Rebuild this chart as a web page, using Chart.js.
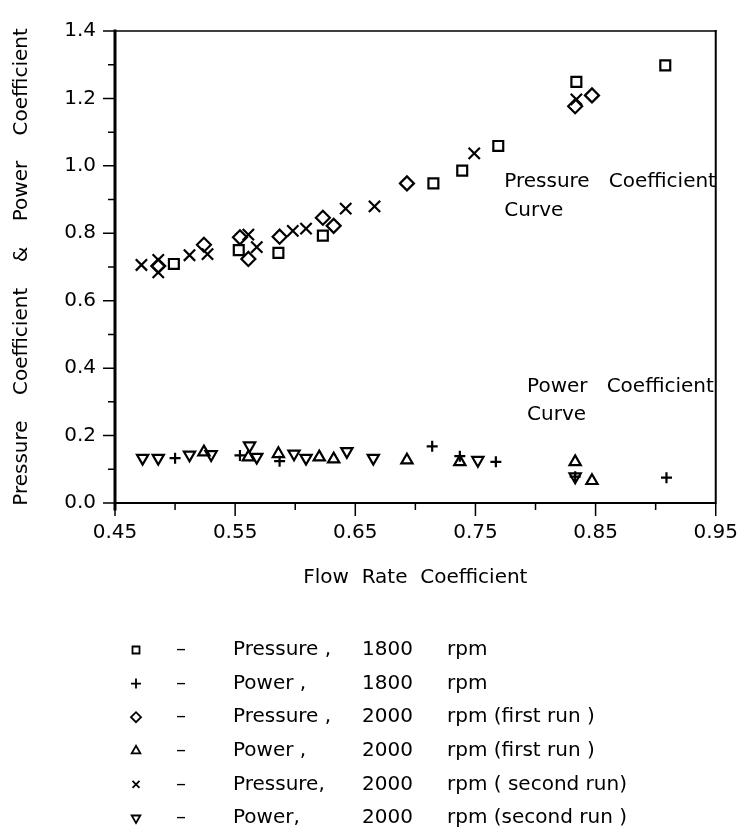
<!DOCTYPE html>
<html>
<head>
<meta charset="utf-8">
<script src="https://cdn.jsdelivr.net/npm/chart.js@4.4.1/dist/chart.umd.min.js"></script>
<style>
html, body { margin: 0; padding: 0; background: #fff; }
#wrap { width: 756px; height: 835px; }
</style>
</head>
<body>
<div id="wrap"><canvas id="c" width="756" height="835"></canvas></div>
<script>
// tick labels
var xTicks = [0.45, 0.55, 0.65, 0.75, 0.85, 0.95];
var xMinor = [0.50, 0.60, 0.70, 0.80, 0.90];
var yTicks = [0.0, 0.2, 0.4, 0.6, 0.8, 1.0, 1.2, 1.4];
var yMinor = [0.1, 0.3, 0.5, 0.7, 0.9, 1.1, 1.3];

// pressure 1800 rpm (squares)
var press1800X = [0.499, 0.553, 0.586, 0.623, 0.715, 0.739, 0.769, 0.834, 0.908];
var press1800Y = [0.709, 0.750, 0.742, 0.793, 0.948, 0.986, 1.059, 1.249, 1.298];
// power 1800 rpm (plus)
var power1800X = [0.500, 0.554, 0.587, 0.714, 0.737, 0.767, 0.833, 0.909];
var power1800Y = [0.133, 0.141, 0.124, 0.168, 0.139, 0.122, 0.078, 0.075];
// pressure 2000 rpm first run (diamonds)
var press2000aX = [0.486, 0.524, 0.554, 0.561, 0.587, 0.623, 0.632, 0.693, 0.833, 0.847];
var press2000aY = [0.703, 0.766, 0.788, 0.724, 0.790, 0.846, 0.822, 0.948, 1.177, 1.209];
// power 2000 rpm first run (triangles up)
var power2000aX = [0.524, 0.561, 0.586, 0.620, 0.632, 0.693, 0.737, 0.833, 0.847];
var power2000aY = [0.151, 0.136, 0.146, 0.136, 0.130, 0.127, 0.122, 0.122, 0.066];
// pressure 2000 rpm second run (x)
var press2000bX = [0.472, 0.486, 0.486, 0.512, 0.527, 0.561, 0.568, 0.598, 0.609, 0.642, 0.666, 0.749, 0.834];
var press2000bY = [0.706, 0.721, 0.684, 0.735, 0.738, 0.796, 0.759, 0.807, 0.814, 0.873, 0.880, 1.037, 1.197];
// power 2000 rpm second run (triangles down)
var power2000bX = [0.473, 0.486, 0.512, 0.530, 0.562, 0.568, 0.599, 0.609, 0.643, 0.665, 0.752, 0.833];
var power2000bY = [0.133, 0.133, 0.143, 0.144, 0.170, 0.136, 0.146, 0.133, 0.153, 0.133, 0.127, 0.078];

var legendNames = ['Pressure ,', 'Power ,', 'Pressure ,', 'Power ,', 'Pressure,', 'Power,'];
var legendSpeeds = ['1800', '1800', '2000', '2000', '2000', '2000'];
var legendNotes = ['rpm', 'rpm', 'rpm (first run )', 'rpm (first run )', 'rpm ( second run)', 'rpm (second run )'];

var FONT = 'DejaVu Sans';
var SIZE = 20;

function pts(xs, ys) {
    return xs.map(function(x, i) { return {x: x, y: ys[i]}; });
}

function series(xs, ys, style, radius, rotation) {
    return {
        data: pts(xs, ys),
        pointStyle: style,
        pointRadius: radius,
        pointRotation: rotation || 0,
        pointBorderWidth: 2.2,
        pointBorderColor: '#000',
        pointBackgroundColor: 'rgba(0,0,0,0)',
        showLine: false
    };
}

var sets = [
    series(press1800X, press1800Y, 'rect', 7),
    series(power1800X, power1800Y, 'cross', 5.5),
    series(press2000aX, press2000aY, 'rectRot', 7),
    series(power2000aX, power2000aY, 'triangle', 6.5),
    series(press2000bX, press2000bY, 'crossRot', 8),
    series(power2000bX, power2000bY, 'triangle', 6.5, 180)
];

// frame and tick marks round the plot
var frame = {
    id: 'frame',
    afterDraw: function(chart) {
        var ctx = chart.ctx, a = chart.chartArea;
        var xs = chart.scales.x, ys = chart.scales.y;
        ctx.save();
        ctx.strokeStyle = '#000';
        ctx.lineCap = 'square';
        ctx.lineWidth = 1.5;
        ctx.beginPath();
        ctx.moveTo(a.left, a.top); ctx.lineTo(a.right, a.top);
        ctx.stroke();
        ctx.lineWidth = 2;
        ctx.beginPath();
        ctx.moveTo(a.right, a.top); ctx.lineTo(a.right, a.bottom);
        ctx.moveTo(a.left, a.bottom); ctx.lineTo(a.right, a.bottom);
        ctx.stroke();
        ctx.lineWidth = 3;
        ctx.beginPath();
        ctx.moveTo(a.left, a.top); ctx.lineTo(a.left, a.bottom + 6);
        ctx.stroke();
        ctx.lineWidth = 1.5;
        ctx.lineCap = 'butt';
        ctx.beginPath();
        xTicks.forEach(function(v) {
            var p = xs.getPixelForValue(v);
            ctx.moveTo(p, a.bottom); ctx.lineTo(p, a.bottom + 13);
        });
        xMinor.forEach(function(v) {
            var p = xs.getPixelForValue(v);
            ctx.moveTo(p, a.bottom); ctx.lineTo(p, a.bottom + 7);
        });
        yTicks.forEach(function(v) {
            var p = ys.getPixelForValue(v);
            ctx.moveTo(a.left, p); ctx.lineTo(a.left - 12, p);
        });
        yMinor.forEach(function(v) {
            var p = ys.getPixelForValue(v);
            ctx.moveTo(a.left, p); ctx.lineTo(a.left - 7, p);
        });
        ctx.stroke();

        // curve notes inside the plot
        ctx.fillStyle = '#000';
        ctx.font = SIZE + 'px "' + FONT + '"';
        ctx.textBaseline = 'middle';
        ctx.textAlign = 'left';
        ctx.fillText('Pressure   Coefficient', xs.getPixelForValue(0.774), ys.getPixelForValue(0.954));
        ctx.fillText('Curve', xs.getPixelForValue(0.774), ys.getPixelForValue(0.867));
        ctx.fillText('Power   Coefficient', xs.getPixelForValue(0.793), ys.getPixelForValue(0.345));
        ctx.fillText('Curve', xs.getPixelForValue(0.793), ys.getPixelForValue(0.261));
        ctx.restore();
    }
};

function symbol(ctx, ds, x, y, r) {
    var s = ds.pointStyle, k;
    ctx.beginPath();
    if (s === 'rect') {
        k = r * 0.7;
        ctx.rect(x - k, y - k, 2 * k, 2 * k);
    } else if (s === 'rectRot') {
        ctx.moveTo(x - r, y); ctx.lineTo(x, y - r); ctx.lineTo(x + r, y); ctx.lineTo(x, y + r); ctx.closePath();
    } else if (s === 'cross') {
        ctx.moveTo(x - r, y); ctx.lineTo(x + r, y); ctx.moveTo(x, y - r); ctx.lineTo(x, y + r);
    } else if (s === 'crossRot') {
        k = r * 0.7;
        ctx.moveTo(x - k, y - k); ctx.lineTo(x + k, y + k); ctx.moveTo(x + k, y - k); ctx.lineTo(x - k, y + k);
    } else {
        var d = ds.pointRotation ? -1 : 1;
        ctx.moveTo(x, y - d * r);
        ctx.lineTo(x + r * 0.866, y + d * r * 0.5);
        ctx.lineTo(x - r * 0.866, y + d * r * 0.5);
        ctx.closePath();
    }
    ctx.stroke();
}

// key below the plot
var key = {
    id: 'key',
    afterDraw: function(chart) {
        var ctx = chart.ctx;
        ctx.save();
        ctx.strokeStyle = '#000';
        ctx.fillStyle = '#000';
        ctx.lineWidth = 1.8;
        ctx.font = SIZE + 'px "' + FONT + '"';
        ctx.textBaseline = 'middle';
        chart.data.datasets.forEach(function(ds, i) {
            var y = 650 + i * 33.6;
            symbol(ctx, ds, 136, y, 5);
            ctx.textAlign = 'center';
            ctx.fillText('\u2013', 181, y);
            ctx.textAlign = 'left';
            ctx.fillText(legendNames[i], 233, y);
            ctx.fillText(legendSpeeds[i], 362, y);
            ctx.fillText(legendNotes[i], 447, y);
        });
        ctx.restore();
    }
};

new Chart(document.getElementById('c'), {
    type: 'scatter',
    data: {datasets: sets},
    options: {
        responsive: false,
        animation: false,
        layout: {padding: {left: 0, top: 20, right: 26, bottom: 242}},
        plugins: {legend: {display: false}, tooltip: {enabled: false}},
        scales: {
            x: {
                type: 'linear',
                min: 0.45,
                max: 0.95,
                afterBuildTicks: function(s) { s.ticks = xTicks.map(function(v) { return {value: v}; }); },
                afterFit: function(s) { s.height = 90; },
                grid: {display: false, drawTicks: false},
                border: {display: false},
                ticks: {
                    color: '#000', padding: 18, maxRotation: 0, autoSkip: false,
                    font: {family: FONT, size: SIZE},
                    callback: function(v) { return v.toFixed(2); }
                },
                title: {
                    display: true, text: 'Flow  Rate  Coefficient', color: '#000',
                    font: {family: FONT, size: SIZE}, padding: {top: 4, bottom: 3}
                }
            },
            y: {
                type: 'linear',
                min: 0,
                max: 1.4,
                afterBuildTicks: function(s) { s.ticks = yTicks.map(function(v) { return {value: v}; }); },
                afterFit: function(s) { s.width = 115; },
                grid: {display: false, drawTicks: false},
                border: {display: false},
                ticks: {
                    color: '#000', padding: 19,
                    font: {family: FONT, size: SIZE},
                    callback: function(v) { return v.toFixed(1); }
                },
                title: {
                    display: true, text: 'Pressure    Coefficient    &    Power    Coefficient', color: '#000',
                    font: {family: FONT, size: SIZE}, padding: {top: 10, bottom: 0}
                }
            }
        }
    },
    plugins: [frame, key]
});
</script>
</body>
</html>
